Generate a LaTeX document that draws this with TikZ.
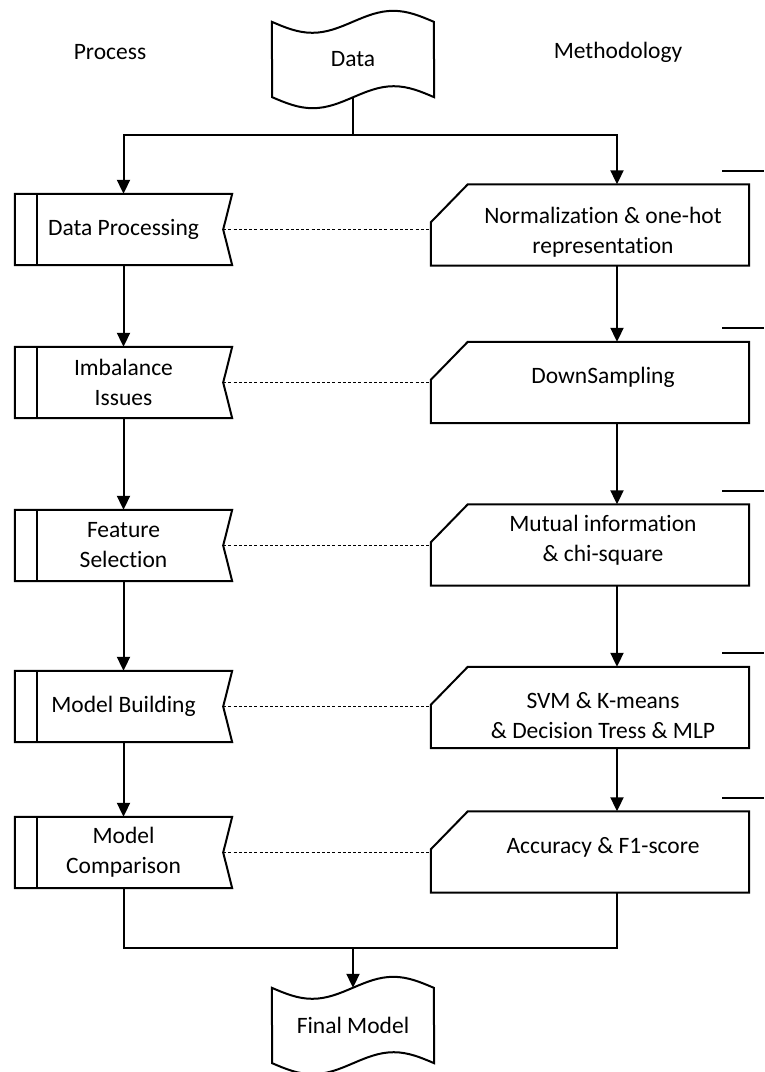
\documentclass[tikz,border=0pt]{standalone}
\usepackage{fontspec}
\setmainfont{Carlito}[Ligatures={NoCommon,NoContextual}]
\usetikzlibrary{arrows.meta}

\begin{document}
\begin{tikzpicture}[
  x=1pt, y=-1pt,
  font=\fontsize{23.5}{30}\selectfont,
  ln/.style={line width=2pt, line join=miter},
  arr/.style={ln, -{Triangle[length=14pt, width=13pt]}},
  dotl/.style={line width=1.8pt, dash pattern=on 3pt off 2.2pt},
  txt/.style={align=center, inner sep=0pt},
  proc/.style={rectangle, minimum width=217pt, minimum height=71pt, inner sep=0pt, align=center},
  meth/.style={rectangle, minimum width=318pt, minimum height=81pt, inner sep=0pt},
  doc/.style={rectangle, minimum width=162pt, minimum height=75pt, inner sep=0pt}
]
\useasboundingbox (0,0) rectangle (764,1072);

% ---- column heads ----
\node[txt] (hdproc) at (110,52) {Process};
\node[txt] (hdmeth) at (618,52) {Methodology};

% ---- start / end ----
\node[doc] (data) at (353,59.5) {\raisebox{-3pt}{Data}};
\node[doc] (final) at (353,1025.5) {Final Model};
\foreach \n in {data,final} {
  \draw[ln] (\n.north west) sin ++(40.5pt,-11pt) cos ++(40.5pt,11pt)
    sin ++(40.5pt,11pt) cos ++(40.5pt,-11pt) -- (\n.south east)
    sin ++(-40.5pt,11pt) cos ++(-40.5pt,-11pt)
    sin ++(-40.5pt,-11pt) cos ++(-40.5pt,11pt) -- cycle;
}

% ---- process column ----
\node[proc] (dp) at (123.5,229.5) {Data Processing};
\node[proc] (imb) at (123.5,382.5) {Imbalance\\Issues};
\node[proc] (feat) at (123.5,545.5) {Feature\\Selection};
\node[proc] (mb) at (123.5,706.5) {Model Building};
\node[proc] (cmp) at (123.5,852.5) {Model\\Comparison};
\foreach \n in {dp,imb,feat,mb,cmp} {
  \draw[ln] (\n.north west) -- (\n.north east) -- ([xshift=-9pt]\n.east)
    -- (\n.south east) -- (\n.south west) -- cycle;
  \draw[ln] ([xshift=22pt]\n.north west) -- ([xshift=22pt]\n.south west);
}

% ---- methodology column ----
\node[meth] (norm) at (590,225) {};
\node[meth] (down) at (590,382.5) {};
\node[meth] (mutual) at (590,545) {};
\node[meth] (svm) at (590,707.5) {};
\node[meth] (acc) at (590,852) {};
\foreach \n in {norm,down,mutual,svm,acc} {
  \draw[ln] ([yshift=-38pt]\n.north west) -- ([xshift=37pt]\n.north west)
    -- (\n.north east) -- (\n.south east) -- (\n.south west) -- cycle;
  \draw[ln] ([xshift=-27pt,yshift=13.5pt]\n.north east) -- ([xshift=15pt,yshift=13.5pt]\n.north east);
}
\node[txt] (normt) at (603,232) {Normalization \& one-hot\\representation};
\node[txt] (downt) at (603,377) {DownSampling};
\node[txt] (mutualt) at (603,540) {Mutual information\\\& chi-square};
\node[txt] (svmt) at (603,716) {SVM \& K-means\\\& Decision Tress \& MLP};
\node[txt] (acct) at (603,847) {Accuracy \& F1-score};

% ---- flow ----
\coordinate (split) at (353,135);
\coordinate (merge) at (353,948);
\draw[ln] (data.south) -- (split);
\draw[arr] (split) -| (dp.north);
\draw[arr] (split) -| ([xshift=27pt]norm.north);

\draw[arr] (dp.south) -- (imb.north);
\draw[arr] (imb.south) -- (feat.north);
\draw[arr] (feat.south) -- (mb.north);
\draw[arr] (mb.south) -- (cmp.north);

\draw[arr] ([xshift=27pt]norm.south) -- ([xshift=27pt]down.north);
\draw[arr] ([xshift=27pt]down.south) -- ([xshift=27pt]mutual.north);
\draw[arr] ([xshift=27pt]mutual.south) -- ([xshift=27pt]svm.north);
\draw[arr] ([xshift=27pt]svm.south) -- ([xshift=27pt]acc.north);

% process <-> method links
\draw[dotl] ([xshift=-9pt]dp.east) -- (dp.east -| norm.west);
\draw[dotl] ([xshift=-9pt]imb.east) -- (imb.east -| down.west);
\draw[dotl] ([xshift=-9pt]feat.east) -- (feat.east -| mutual.west);
\draw[dotl] ([xshift=-9pt]mb.east) -- (mb.east -| svm.west);
\draw[dotl] ([xshift=-9pt]cmp.east) -- (cmp.east -| acc.west);

\draw[ln] (cmp.south) |- (merge);
\draw[ln] ([xshift=27pt]acc.south) |- (merge);
\draw[arr] (merge) -- (final.north);

\end{tikzpicture}
\end{document}
